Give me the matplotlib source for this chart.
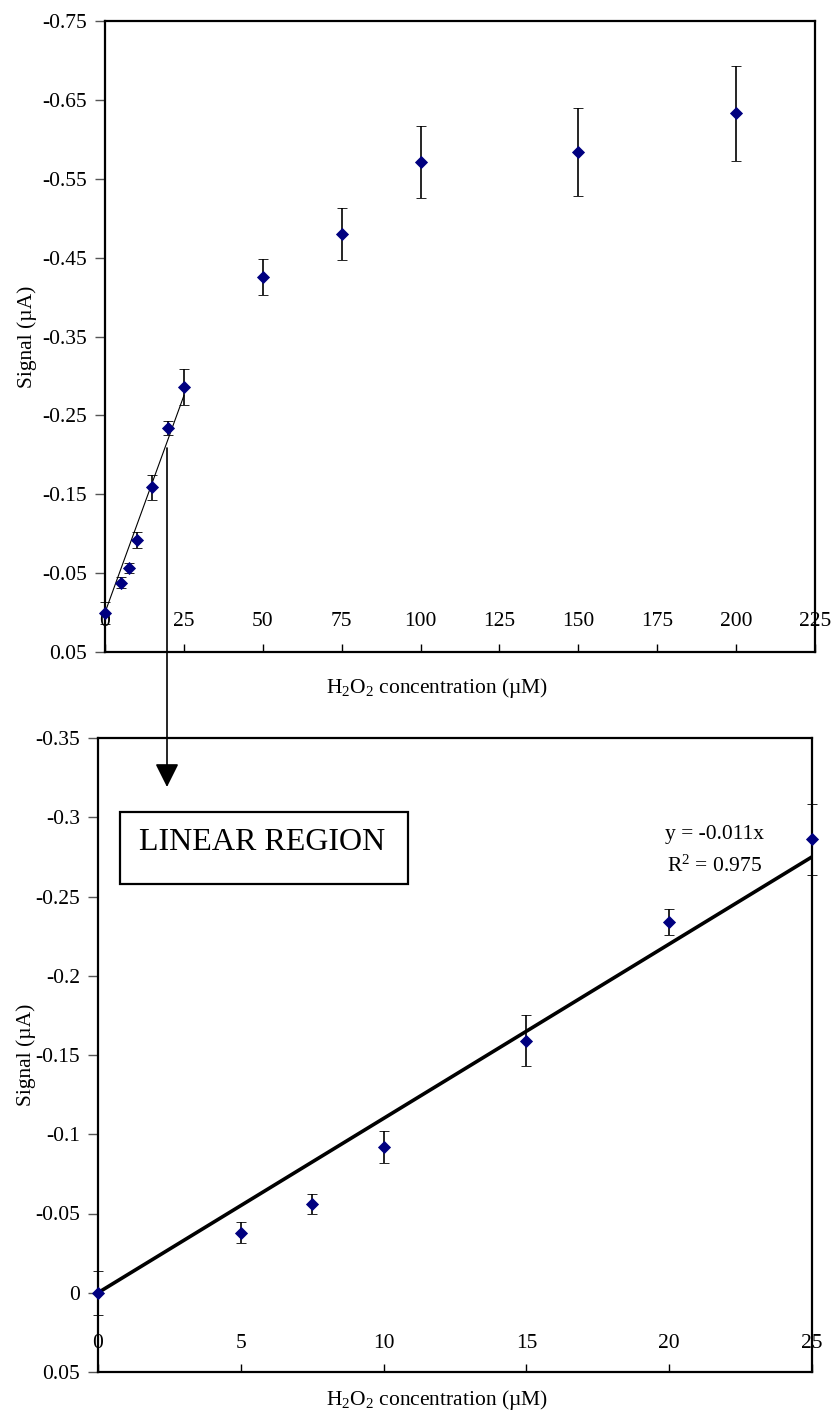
import matplotlib
matplotlib.use("Agg")
import matplotlib.pyplot as plt
from matplotlib.patches import Rectangle, FancyArrowPatch, ArrowStyle
from matplotlib.ticker import FixedLocator, FixedFormatter

plt.rcParams["font.family"] = ["Liberation Serif", "DejaVu Serif"]
plt.rcParams["mathtext.fontset"] = "custom"
plt.rcParams["mathtext.rm"] = "Liberation Serif"
plt.rcParams["mathtext.it"] = "Liberation Serif:italic"
plt.rcParams["axes.unicode_minus"] = False

# --- data -------------------------------------------------------------
conc = [0, 5, 7.5, 10, 15, 20, 25, 50, 75, 100, 150, 200]          # µM
signal = [0.0, -0.038, -0.056, -0.092, -0.159, -0.234, -0.286,
          -0.425, -0.480, -0.571, -0.584, -0.633]                   # µA
signal_err = [0.014, 0.0067, 0.0064, 0.0102, 0.016, 0.0084, 0.0223,
              0.023, 0.033, 0.046, 0.056, 0.060]

n_linear = 7                      # points up to 25 µM
fit_slope = -0.011                # y = -0.011x
fit_r2 = 0.975
fit_range = [0, 25]

top_xticks = [0, 25, 50, 75, 100, 125, 150, 175, 200, 225]
top_yticks = [-0.75, -0.65, -0.55, -0.45, -0.35, -0.25, -0.15, -0.05, 0.05]
top_ylabels = ["-0.75", "-0.65", "-0.55", "-0.45", "-0.35", "-0.25",
               "-0.15", "-0.05", "0.05"]
bot_xticks = [0, 5, 10, 15, 20, 25]
bot_yticks = [-0.35, -0.3, -0.25, -0.2, -0.15, -0.1, -0.05, 0, 0.05]
bot_ylabels = ["-0.35", "-0.3", "-0.25", "-0.2", "-0.15", "-0.1",
               "-0.05", "0", "0.05"]

xlabel = r"H$_2$O$_2$ concentration (µM)"
ylabel = "Signal (µA)"
box_text = "LINEAR REGION"

# --- figure -------------------------------------------------------------
W, H = 835, 1416
fig = plt.figure(figsize=(W / 100, H / 100), dpi=100)

def px_axes(l, t, r, b):
    return fig.add_axes([l / W, 1 - b / H, (r - l) / W, (b - t) / H])

ax1 = px_axes(105, 21, 815, 652)
ax2 = px_axes(98, 738, 812, 1372)

marker_kw = dict(fmt="D", color="#000080", ms=6.0, mec="#000080", mew=0.6,
                 ecolor="black", elinewidth=1.2, capsize=3.8, capthick=1.2,
                 clip_on=False, zorder=5)

tick_fs = 15.5

def style_axes(ax, xticks, yticks, ylabels, xlim, ylim, xpad):
    ax.set_xlim(*xlim)
    ax.set_ylim(*ylim)          # reversed: negative at top
    for s in ax.spines.values():
        s.set_linewidth(1.6)
        s.set_color("black")
    ax.xaxis.set_major_locator(FixedLocator(xticks))
    ax.xaxis.set_major_formatter(FixedFormatter([f"{v:g}" for v in xticks]))
    ax.yaxis.set_major_locator(FixedLocator(yticks))
    ax.yaxis.set_major_formatter(FixedFormatter(ylabels))
    ax.tick_params(axis="x", direction="in", length=6, width=1.0,
                   pad=xpad, labelsize=tick_fs)
    ax.tick_params(axis="y", direction="out", length=7, width=1.0,
                   color="#555555", pad=6, labelsize=tick_fs)
    ax.set_xlabel(xlabel, fontsize=tick_fs)
    ax.set_ylabel(ylabel, fontsize=tick_fs)

# top panel: full range
style_axes(ax1, top_xticks, top_yticks, top_ylabels, (0, 225), (0.05, -0.75), -29)
ax1.errorbar(conc, signal, yerr=signal_err, **marker_kw)
ax1.plot(fit_range, [fit_slope * v for v in fit_range], color="black",
         lw=0.8, zorder=4)
ax1.xaxis.set_label_coords((437 - 105) / 710, (652 - 688) / 631)
ax1.xaxis.label.set_va("center")
ax1.yaxis.set_label_coords((27 - 105) / 710, (652 - 337) / 631)
ax1.yaxis.label.set_va("center")

# bottom panel: linear region
style_axes(ax2, bot_xticks, bot_yticks, bot_ylabels, (0, 25), (0.05, -0.35), -27)
ax2.errorbar(conc[:n_linear], signal[:n_linear], yerr=signal_err[:n_linear],
             **marker_kw)
ax2.plot(fit_range, [fit_slope * v for v in fit_range], color="black",
         lw=2.6, zorder=4, solid_capstyle="butt")
ax2.xaxis.set_label_coords((437 - 98) / 714, (1372 - 1400) / 634)
ax2.xaxis.label.set_va("center")
ax2.yaxis.set_label_coords((26 - 98) / 714, (1372 - 1055) / 634)
ax2.yaxis.label.set_va("center")

ax2.text(21.6, -0.289, f"y = {fit_slope:g}x", ha="center", va="center",
         fontsize=tick_fs)
ax2.text(21.6, -0.269, f"R$^2$ = {fit_r2:g}", ha="center", va="center",
         fontsize=tick_fs)

ax2.add_patch(Rectangle(((120 - 98) / 714, (1372 - 884) / 634), 288 / 714,
                        72 / 634, transform=ax2.transAxes, fill=False,
                        ec="black", lw=1.6, zorder=6))
ax2.text((262 - 98) / 714, (1372 - 842) / 634, box_text,
         transform=ax2.transAxes, ha="center", va="center", fontsize=23)

# arrow from the linear part of the top curve down to the zoomed panel
arrow = FancyArrowPatch((167 / W, 1 - 448 / H), (167 / W, 1 - 787 / H),
                        transform=fig.transFigure,
                        arrowstyle=ArrowStyle("-|>", head_length=1.0,
                                              head_width=0.5),
                        mutation_scale=14.5, lw=1.2, color="black",
                        shrinkA=0, shrinkB=0)
fig.add_artist(arrow)

fig.savefig("out.png", dpi=100)
